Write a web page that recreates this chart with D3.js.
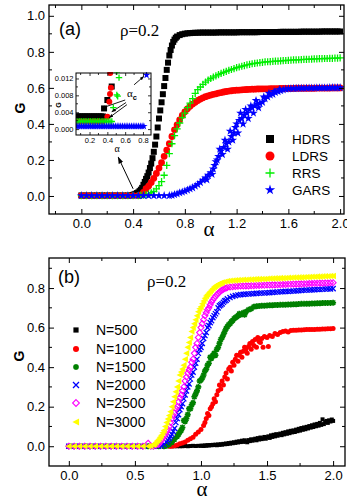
<!DOCTYPE html>
<html>
<head>
<meta charset="utf-8">
<script src="https://cdn.jsdelivr.net/npm/d3@7"></script>
<style>
  body { margin: 0; background: #fff; }
  svg { display: block; }
  text { font-family: "Liberation Sans", Arial, sans-serif; }
</style>
</head>
<body>
<svg id="fig" width="347" height="502"></svg>
<script>
// ---------- panel (a): G vs alpha, rho = 0.2 ----------
const hdrs = [[0,0.003],[0.04,0.003],[0.08,0.003],[0.12,0.003],[0.16,0.003],[0.2,0.003],[0.24,0.003],[0.28,0.003],[0.32,0.003],[0.36,0.003],[0.38,0.004],
  [0.4,0.006],[0.41,0.009],[0.42,0.012],[0.43,0.016],[0.44,0.02],[0.45,0.027],[0.46,0.035],[0.47,0.045],[0.48,0.062],[0.49,0.078],
  [0.5,0.095],[0.51,0.11],[0.52,0.13],[0.53,0.155],[0.54,0.18],[0.55,0.21],[0.56,0.245],[0.57,0.285],[0.58,0.33],[0.59,0.38],
  [0.6,0.43],[0.61,0.475],[0.62,0.52],[0.63,0.565],[0.64,0.61],[0.65,0.655],[0.66,0.7],[0.67,0.74],[0.68,0.78],[0.69,0.81],
  [0.7,0.835],[0.71,0.855],[0.72,0.868],[0.73,0.878],[0.74,0.885],[0.76,0.893],[0.78,0.898],[0.8,0.901],[0.82,0.903],[0.84,0.904],[0.86,0.905],[0.88,0.906],[0.9,0.906],
  [0.92,0.907],[0.94,0.907],[0.96,0.907],[0.98,0.907],[1,0.907],[1.02,0.907],[1.04,0.907],[1.06,0.908],[1.08,0.908],[1.1,0.908],[1.12,0.908],[1.14,0.908],[1.16,0.908],[1.18,0.908],[1.2,0.908],
  [1.22,0.909],[1.24,0.909],[1.26,0.909],[1.28,0.909],[1.3,0.909],[1.32,0.909],[1.34,0.909],[1.36,0.909],[1.38,0.91],[1.4,0.91],[1.42,0.91],[1.44,0.91],[1.46,0.91],[1.48,0.91],[1.5,0.91],[1.52,0.91],
  [1.54,0.911],[1.56,0.911],[1.58,0.911],[1.6,0.911],[1.62,0.911],[1.64,0.911],[1.66,0.911],[1.68,0.911],[1.7,0.912],[1.72,0.912],[1.74,0.912],[1.76,0.912],[1.78,0.912],[1.8,0.912],[1.82,0.912],[1.84,0.912],
  [1.86,0.913],[1.88,0.913],[1.9,0.913],[1.92,0.913],[1.94,0.913],[1.96,0.913],[1.98,0.913],[2,0.913]];

const ldrs = [[0,0.002],[0.04,0.002],[0.08,0.002],[0.12,0.002],[0.16,0.002],[0.2,0.002],[0.24,0.002],[0.28,0.002],[0.32,0.002],[0.36,0.002],[0.4,0.002],[0.44,0.002],
  [0.46,0.006],[0.48,0.02],[0.5,0.04],[0.52,0.055],[0.54,0.075],[0.56,0.098],[0.58,0.125],[0.6,0.155],[0.62,0.185],[0.64,0.22],[0.66,0.255],[0.68,0.29],[0.7,0.33],
  [0.72,0.367],[0.74,0.395],[0.76,0.422],[0.78,0.447],[0.8,0.467],[0.82,0.484],[0.84,0.498],[0.86,0.51],[0.88,0.52],[0.9,0.53],[0.92,0.538],[0.94,0.545],[0.96,0.551],[0.98,0.556],
  [1,0.56],[1.02,0.564],[1.04,0.567],[1.06,0.571],[1.08,0.574],[1.1,0.577],[1.12,0.58],[1.14,0.582],[1.16,0.584],[1.18,0.586],[1.2,0.587],[1.22,0.588],[1.24,0.589],[1.26,0.59],[1.28,0.591],
  [1.3,0.592],[1.32,0.593],[1.34,0.593],[1.36,0.594],[1.38,0.594],[1.4,0.595],[1.42,0.595],[1.44,0.595],[1.46,0.596],[1.48,0.596],[1.5,0.596],[1.52,0.596],[1.54,0.597],[1.56,0.597],[1.58,0.597],
  [1.6,0.597],[1.62,0.597],[1.64,0.597],[1.66,0.598],[1.68,0.598],[1.7,0.598],[1.72,0.598],[1.74,0.598],[1.76,0.598],[1.78,0.598],[1.8,0.598],[1.82,0.599],[1.84,0.599],[1.86,0.599],[1.88,0.599],
  [1.9,0.599],[1.92,0.599],[1.94,0.6],[1.96,0.6],[1.98,0.6],[2,0.6]];

const rrs = [[0,0.0015],[0.04,0.0015],[0.08,0.0015],[0.12,0.0015],[0.16,0.0015],[0.2,0.0015],[0.24,0.0015],[0.28,0.0015],[0.32,0.0015],[0.36,0.0015],[0.4,0.0015],[0.44,0.0015],
  [0.46,0.003],[0.48,0.005],[0.5,0.008],[0.52,0.012],[0.54,0.018],[0.56,0.026],[0.58,0.04],[0.6,0.058],[0.62,0.08],[0.64,0.115],[0.66,0.17],[0.68,0.235],[0.7,0.29],
  [0.72,0.335],[0.74,0.372],[0.76,0.405],[0.78,0.435],[0.8,0.46],[0.82,0.49],[0.84,0.515],[0.86,0.54],[0.88,0.57],[0.9,0.59],[0.92,0.605],[0.94,0.62],[0.96,0.632],[0.98,0.643],
  [1,0.652],[1.02,0.66],[1.04,0.667],[1.06,0.674],[1.08,0.68],[1.1,0.686],[1.12,0.692],[1.14,0.697],[1.16,0.702],[1.18,0.707],[1.2,0.712],[1.22,0.716],[1.24,0.72],[1.26,0.724],[1.28,0.728],
  [1.3,0.731],[1.32,0.734],[1.34,0.736],[1.36,0.738],[1.38,0.74],[1.4,0.742],[1.42,0.744],[1.44,0.745],[1.46,0.746],[1.48,0.747],[1.5,0.748],[1.52,0.749],[1.54,0.75],[1.56,0.751],[1.58,0.752],
  [1.6,0.753],[1.62,0.754],[1.64,0.755],[1.66,0.755],[1.68,0.756],[1.7,0.757],[1.72,0.758],[1.74,0.758],[1.76,0.759],[1.78,0.76],[1.8,0.761],[1.82,0.761],[1.84,0.762],[1.86,0.762],[1.88,0.763],
  [1.9,0.763],[1.92,0.764],[1.94,0.764],[1.96,0.765],[1.98,0.765],[2,0.766]];

const gars = [[0,0.002],[0.04,0.002],[0.08,0.002],[0.12,0.002],[0.16,0.002],[0.2,0.002],[0.24,0.002],[0.28,0.002],[0.32,0.002],[0.36,0.002],[0.4,0.002],[0.44,0.002],[0.48,0.002],[0.52,0.002],[0.56,0.002],[0.6,0.002],[0.64,0.002],[0.68,0.002],
  [0.7,0.004],[0.72,0.008],[0.74,0.012],[0.76,0.018],[0.78,0.022],[0.8,0.027],[0.82,0.033],[0.84,0.04],[0.86,0.046],[0.88,0.055],[0.9,0.064],[0.92,0.075],[0.94,0.088],[0.96,0.1],[0.97,0.09],[0.98,0.115],
  [1,0.13],[1.01,0.12],[1.02,0.15],[1.03,0.17],[1.04,0.19],[1.05,0.2],[1.06,0.22],[1.07,0.26],[1.08,0.25],[1.09,0.23],[1.1,0.27],[1.11,0.31],[1.12,0.29],[1.13,0.26],[1.14,0.3],[1.15,0.36],[1.16,0.33],[1.17,0.31],
  [1.18,0.35],[1.19,0.38],[1.2,0.4],[1.21,0.35],[1.22,0.42],[1.23,0.46],[1.24,0.43],[1.25,0.4],[1.26,0.45],[1.27,0.48],[1.28,0.46],[1.29,0.43],[1.3,0.48],[1.31,0.5],[1.32,0.49],[1.33,0.46],[1.34,0.5],[1.35,0.53],
  [1.36,0.51],[1.37,0.49],[1.38,0.515],[1.4,0.52],[1.41,0.55],[1.42,0.54],[1.44,0.55],[1.45,0.57],[1.46,0.56],[1.48,0.565],[1.49,0.58],[1.5,0.575],[1.52,0.58],[1.53,0.59],[1.54,0.585],[1.56,0.59],[1.58,0.593],
  [1.6,0.595],[1.62,0.596],[1.64,0.597],[1.66,0.597],[1.68,0.598],[1.7,0.598],[1.72,0.598],[1.74,0.599],[1.76,0.599],[1.78,0.599],[1.8,0.599],[1.82,0.6],[1.84,0.6],[1.86,0.6],[1.88,0.6],[1.9,0.6],
  [1.92,0.601],[1.94,0.601],[1.96,0.601],[1.98,0.601],[2,0.601]];

// inset of panel (a): the onset region, alpha_c
const hdrsIn = [[0.05,0.003],[0.07,0.003],[0.09,0.003],[0.11,0.003],[0.13,0.003],[0.15,0.003],[0.17,0.003],[0.19,0.003],[0.21,0.003],[0.23,0.003],[0.25,0.003],[0.27,0.003],[0.29,0.003],[0.31,0.003],[0.33,0.003],[0.35,0.003],
  [0.363,0.0049],[0.4,0.0069],[0.449,0.0101],[0.43,0.0144]];
const ldrsIn = [[0.05,0.0018],[0.1,0.0018],[0.15,0.0018],[0.2,0.0018],[0.25,0.0018],[0.3,0.0018],[0.35,0.0018],[0.4,0.0029],[0.422,0.0065],[0.43,0.0083],[0.44,0.0098],[0.432,0.0133]];
const rrsIn = [[0.05,0.0018],[0.07,0.0018],[0.09,0.0018],[0.11,0.0018],[0.13,0.0018],[0.15,0.0018],[0.17,0.0018],[0.19,0.0018],[0.21,0.0018],[0.23,0.0018],[0.25,0.0018],[0.27,0.0018],[0.29,0.0018],[0.31,0.0018],[0.33,0.0018],
  [0.35,0.0018],[0.37,0.0018],[0.39,0.0018],[0.41,0.0018],[0.43,0.0018],[0.45,0.0018],[0.467,0.0051],[0.506,0.0081],[0.516,0.0078],[0.506,0.0136],[0.531,0.0122]];
const garsIn = [[0.05,0.0007],[0.07,0.0007],[0.09,0.0007],[0.11,0.0007],[0.13,0.0007],[0.15,0.0007],[0.17,0.0007],[0.19,0.0007],[0.21,0.0007],[0.23,0.0007],[0.25,0.0007],[0.27,0.0007],[0.29,0.0007],[0.31,0.0007],
  [0.33,0.0007],[0.35,0.0007],[0.37,0.0007],[0.39,0.0007],[0.41,0.0007],[0.43,0.0007],[0.45,0.0007],[0.47,0.0007],[0.49,0.0007],[0.51,0.0007],[0.53,0.0007],[0.55,0.0007],[0.57,0.0007],[0.59,0.0007],
  [0.61,0.0007],[0.63,0.0007],[0.65,0.0007],[0.67,0.0007],[0.69,0.0007],[0.71,0.0007],[0.73,0.0007],[0.75,0.0007],[0.77,0.0007],[0.79,0.0007],[0.81,0.0007],[0.84,0.0128]];

// ---------- panel (b): G vs alpha for network sizes N ----------
const n500 = [[0,0],[0.04,0],[0.08,0],[0.12,0],[0.16,0],[0.2,0],[0.24,0],[0.28,0],[0.32,0],[0.36,0],[0.4,0],[0.44,0],[0.48,0],[0.52,0],[0.56,0],[0.6,0],[0.64,0],[0.68,0],[0.72,0],[0.76,0],
  [0.78,0],[0.8,0],[0.82,0],[0.84,0],[0.86,0],[0.88,0.001],[0.9,0],[0.92,0.001],[0.94,0.002],[0.96,0.001],[0.98,0.002],
  [1,0.002],[1.01,0.003],[1.02,0.001],[1.03,0.004],[1.04,0.003],[1.05,0.005],[1.06,0.004],[1.07,0.006],[1.08,0.005],[1.09,0.007],
  [1.1,0.006],[1.11,0.008],[1.12,0.005],[1.13,0.009],[1.14,0.007],[1.15,0.01],[1.16,0.008],[1.17,0.012],[1.18,0.01],[1.19,0.014],
  [1.2,0.011],[1.21,0.016],[1.22,0.013],[1.23,0.018],[1.24,0.015],[1.25,0.02],[1.26,0.017],[1.27,0.023],[1.28,0.019],[1.29,0.025],
  [1.3,0.021],[1.31,0.028],[1.32,0.022],[1.33,0.03],[1.34,0.024],[1.35,0.02],[1.36,0.031],[1.37,0.026],[1.38,0.035],[1.39,0.028],
  [1.4,0.033],[1.41,0.038],[1.42,0.03],[1.43,0.041],[1.44,0.034],[1.45,0.044],[1.46,0.036],[1.47,0.04],[1.48,0.047],[1.49,0.038],
  [1.5,0.045],[1.51,0.05],[1.52,0.042],[1.53,0.055],[1.54,0.047],[1.55,0.058],[1.56,0.05],[1.57,0.061],[1.58,0.053],[1.59,0.059],
  [1.6,0.064],[1.61,0.056],[1.62,0.068],[1.63,0.06],[1.64,0.071],[1.65,0.063],[1.66,0.075],[1.67,0.066],[1.68,0.078],[1.69,0.07],
  [1.7,0.08],[1.71,0.072],[1.72,0.084],[1.73,0.076],[1.74,0.088],[1.75,0.079],[1.76,0.092],[1.77,0.083],[1.78,0.095],[1.79,0.086],
  [1.8,0.098],[1.81,0.09],[1.82,0.102],[1.83,0.094],[1.84,0.106],[1.85,0.097],[1.86,0.11],[1.87,0.101],[1.88,0.113],[1.89,0.104],
  [1.9,0.118],[1.91,0.108],[1.92,0.136],[1.93,0.112],[1.94,0.122],[1.95,0.128],[1.96,0.118],[1.97,0.131],[1.98,0.125],[1.99,0.135],[2,0.128]];

const n1000 = [[0,0],[0.04,0],[0.08,0],[0.12,0],[0.16,0],[0.2,0],[0.24,0],[0.28,0],[0.32,0],[0.36,0],[0.4,0],[0.44,0],[0.48,0],[0.52,0],[0.56,0],[0.6,0],[0.64,0],[0.68,0],[0.72,0],[0.76,0],
  [0.78,0],[0.8,0.003],[0.82,0.006],[0.84,0.012],[0.86,0.016],[0.88,0.022],[0.9,0.03],[0.92,0.038],[0.94,0.046],[0.96,0.06],[0.98,0.072],
  [1,0.085],[1.02,0.105],[1.03,0.12],[1.04,0.14],[1.05,0.165],[1.06,0.155],[1.07,0.19],[1.08,0.2],[1.09,0.215],[1.1,0.24],[1.11,0.225],[1.12,0.26],[1.13,0.28],[1.14,0.31],
  [1.15,0.29],[1.16,0.33],[1.17,0.31],[1.18,0.35],[1.19,0.37],[1.2,0.34],[1.21,0.39],[1.22,0.4],[1.23,0.38],[1.24,0.425],[1.25,0.41],[1.26,0.44],[1.27,0.46],[1.28,0.43],[1.29,0.46],
  [1.3,0.475],[1.31,0.45],[1.32,0.48],[1.33,0.5],[1.34,0.49],[1.35,0.47],[1.36,0.505],[1.37,0.52],[1.38,0.49],[1.39,0.53],[1.4,0.51],[1.41,0.54],[1.42,0.5],[1.43,0.55],[1.44,0.53],
  [1.45,0.525],[1.46,0.545],[1.47,0.5],[1.48,0.555],[1.5,0.55],[1.51,0.505],[1.52,0.56],[1.54,0.555],[1.56,0.57],[1.58,0.565],[1.6,0.575],[1.62,0.58],[1.64,0.583],[1.66,0.578],[1.68,0.585],
  [1.7,0.586],[1.72,0.587],[1.74,0.588],[1.76,0.588],[1.78,0.589],[1.8,0.59],[1.82,0.59],[1.84,0.591],[1.86,0.591],[1.88,0.592],[1.9,0.592],[1.92,0.593],[1.94,0.593],[1.96,0.594],[1.98,0.594],[2,0.595]];

const n1500 = [[0,0],[0.04,0],[0.08,0],[0.12,0],[0.16,0],[0.2,0],[0.24,0],[0.28,0],[0.32,0],[0.36,0],[0.4,0],[0.44,0],[0.48,0],[0.52,0],[0.56,0],[0.6,0],[0.64,0],[0.68,0],[0.72,0],
  [0.74,0.003],[0.76,0.01],[0.78,0.02],[0.8,0.035],[0.82,0.05],[0.83,0.06],[0.84,0.072],[0.85,0.08],[0.86,0.095],[0.87,0.13],[0.88,0.125],[0.89,0.14],[0.9,0.16],[0.91,0.19],[0.92,0.19],
  [0.93,0.21],[0.94,0.22],[0.95,0.25],[0.96,0.265],[0.97,0.28],[0.98,0.3],[0.99,0.33],[1,0.335],[1.01,0.345],[1.02,0.36],[1.03,0.38],[1.04,0.39],[1.05,0.41],[1.06,0.42],[1.07,0.45],
  [1.08,0.445],[1.09,0.46],[1.1,0.47],[1.11,0.46],[1.12,0.49],[1.13,0.5],[1.14,0.52],[1.15,0.54],[1.16,0.55],[1.17,0.565],[1.18,0.58],[1.19,0.595],[1.2,0.605],[1.21,0.615],[1.22,0.62],
  [1.23,0.63],[1.24,0.636],[1.25,0.645],[1.26,0.65],[1.27,0.655],[1.28,0.66],[1.29,0.67],[1.3,0.665],[1.32,0.675],[1.33,0.665],[1.34,0.68],[1.36,0.69],[1.38,0.695],[1.4,0.705],[1.42,0.708],
  [1.44,0.709],[1.46,0.71],[1.48,0.711],[1.5,0.712],[1.52,0.713],[1.54,0.713],[1.56,0.714],[1.58,0.714],[1.6,0.715],[1.62,0.716],[1.64,0.716],[1.66,0.717],[1.68,0.717],[1.7,0.718],
  [1.72,0.718],[1.74,0.719],[1.76,0.72],[1.78,0.72],[1.8,0.721],[1.82,0.721],[1.84,0.722],[1.86,0.722],[1.88,0.723],[1.9,0.723],[1.92,0.724],[1.94,0.724],[1.96,0.725],[1.98,0.725],[2,0.726]];

const n2000 = [[0,0],[0.04,0],[0.08,0],[0.12,0],[0.16,0],[0.2,0],[0.24,0],[0.28,0],[0.32,0],[0.36,0],[0.4,0],[0.44,0],[0.48,0],[0.52,0],[0.56,0],[0.6,0],[0.64,0],[0.68,0],
  [0.7,0.003],[0.72,0.01],[0.74,0.02],[0.75,0.03],[0.76,0.04],[0.77,0.05],[0.78,0.06],[0.79,0.075],[0.8,0.09],[0.81,0.12],[0.82,0.14],[0.83,0.16],[0.84,0.185],[0.85,0.2],[0.86,0.215],
  [0.87,0.24],[0.88,0.26],[0.89,0.28],[0.9,0.3],[0.91,0.315],[0.92,0.34],[0.93,0.36],[0.94,0.375],[0.95,0.4],[0.96,0.42],[0.97,0.44],[0.98,0.47],[0.99,0.49],[1,0.5],[1.01,0.52],
  [1.02,0.545],[1.03,0.56],[1.04,0.575],[1.05,0.6],[1.06,0.61],[1.07,0.625],[1.08,0.635],[1.09,0.65],[1.1,0.66],[1.11,0.67],[1.12,0.68],[1.13,0.7],[1.14,0.71],[1.15,0.715],[1.16,0.72],
  [1.17,0.728],[1.18,0.735],[1.19,0.738],[1.2,0.745],[1.22,0.752],[1.24,0.758],[1.26,0.762],[1.28,0.765],[1.3,0.767],[1.32,0.768],[1.34,0.769],[1.36,0.77],[1.38,0.771],[1.4,0.772],
  [1.42,0.773],[1.44,0.774],[1.46,0.775],[1.48,0.775],[1.5,0.776],[1.52,0.777],[1.54,0.778],[1.56,0.779],[1.58,0.78],[1.6,0.781],[1.62,0.782],[1.64,0.783],[1.66,0.783],[1.68,0.784],
  [1.7,0.785],[1.72,0.786],[1.74,0.787],[1.76,0.788],[1.78,0.789],[1.8,0.79],[1.82,0.79],[1.84,0.791],[1.86,0.792],[1.88,0.793],[1.9,0.793],[1.92,0.794],[1.94,0.795],[1.96,0.796],[1.98,0.796],[2,0.797]];

const n2500 = [[0,0],[0.04,0],[0.08,0],[0.12,0],[0.16,0],[0.2,0],[0.24,0],[0.28,0],[0.32,0],[0.36,0],[0.4,0],[0.44,0],[0.48,0],[0.52,0],[0.56,0],[0.6,0.015],[0.62,0],[0.64,0],
  [0.66,0.005],[0.68,0.01],[0.69,0.02],[0.7,0.03],[0.71,0.04],[0.72,0.05],[0.73,0.06],[0.74,0.075],[0.75,0.085],[0.76,0.1],[0.77,0.12],[0.78,0.14],[0.79,0.155],[0.8,0.17],[0.81,0.19],
  [0.82,0.2],[0.83,0.225],[0.84,0.245],[0.85,0.26],[0.86,0.28],[0.87,0.3],[0.88,0.33],[0.89,0.35],[0.9,0.37],[0.91,0.385],[0.92,0.4],[0.93,0.425],[0.94,0.44],[0.95,0.47],[0.96,0.5],
  [0.97,0.52],[0.98,0.55],[0.99,0.575],[1,0.6],[1.01,0.62],[1.02,0.64],[1.03,0.66],[1.04,0.675],[1.05,0.69],[1.06,0.7],[1.07,0.715],[1.08,0.73],[1.09,0.74],[1.1,0.75],[1.11,0.758],
  [1.12,0.765],[1.13,0.772],[1.14,0.78],[1.15,0.785],[1.16,0.79],[1.17,0.794],[1.18,0.798],[1.19,0.8],[1.2,0.803],[1.22,0.805],[1.24,0.807],[1.26,0.808],[1.28,0.809],[1.3,0.81],
  [1.32,0.81],[1.34,0.811],[1.36,0.811],[1.38,0.812],[1.4,0.812],[1.42,0.813],[1.44,0.813],[1.46,0.814],[1.48,0.814],[1.5,0.815],[1.52,0.815],[1.54,0.816],[1.56,0.816],[1.58,0.817],
  [1.6,0.817],[1.62,0.818],[1.64,0.818],[1.66,0.819],[1.68,0.819],[1.7,0.82],[1.72,0.82],[1.74,0.821],[1.76,0.821],[1.78,0.822],[1.8,0.822],[1.82,0.823],[1.84,0.823],[1.86,0.824],
  [1.88,0.824],[1.9,0.825],[1.92,0.825],[1.94,0.826],[1.96,0.826],[1.98,0.827],[2,0.827]];

const n3000 = [[0,0],[0.04,0],[0.08,0],[0.12,0],[0.16,0],[0.2,0],[0.24,0],[0.28,0],[0.32,0],[0.36,0],[0.4,0],[0.44,0],[0.48,0],[0.52,0],[0.56,0],[0.6,0],
  [0.62,0.002],[0.64,0.008],[0.65,0.012],[0.66,0.02],[0.67,0.028],[0.68,0.035],[0.69,0.045],[0.7,0.055],[0.71,0.068],[0.72,0.08],[0.73,0.1],[0.74,0.12],[0.75,0.138],[0.76,0.155],
  [0.77,0.175],[0.78,0.2],[0.79,0.225],[0.8,0.25],[0.81,0.275],[0.82,0.3],[0.83,0.33],[0.84,0.36],[0.85,0.375],[0.86,0.39],[0.87,0.41],[0.88,0.44],[0.89,0.47],[0.9,0.5],[0.91,0.525],
  [0.92,0.55],[0.93,0.58],[0.94,0.6],[0.95,0.62],[0.96,0.64],[0.97,0.66],[0.98,0.68],[0.99,0.695],[1,0.705],[1.01,0.72],[1.02,0.735],[1.03,0.748],[1.04,0.76],[1.05,0.768],[1.06,0.775],
  [1.07,0.783],[1.08,0.79],[1.09,0.798],[1.1,0.805],[1.11,0.81],[1.12,0.815],[1.13,0.819],[1.14,0.822],[1.15,0.825],[1.16,0.828],[1.18,0.832],[1.2,0.835],[1.22,0.837],[1.24,0.838],
  [1.26,0.839],[1.28,0.84],[1.3,0.841],[1.32,0.842],[1.34,0.842],[1.36,0.843],[1.38,0.843],[1.4,0.844],[1.42,0.845],[1.44,0.845],[1.46,0.846],[1.48,0.846],[1.5,0.847],[1.52,0.848],
  [1.54,0.848],[1.56,0.849],[1.58,0.849],[1.6,0.85],[1.62,0.85],[1.64,0.851],[1.66,0.852],[1.68,0.852],[1.7,0.853],[1.72,0.853],[1.74,0.854],[1.76,0.854],[1.78,0.855],[1.8,0.856],
  [1.82,0.856],[1.84,0.857],[1.86,0.857],[1.88,0.858],[1.9,0.858],[1.92,0.859],[1.94,0.86],[1.96,0.86],[1.98,0.861],[2,0.861]];

// ticks
const ticksYA = [0, 0.2, 0.4, 0.6, 0.8, 1.0];
const minorYA = [0.1, 0.3, 0.5, 0.7, 0.9];
const ticksXA = [0, 0.4, 0.8, 1.2, 1.6, 2.0];
const minorXA = [-0.2, 0.2, 0.6, 1.0, 1.4, 1.8];
const ticksYB = [0, 0.2, 0.4, 0.6, 0.8];
const minorYB = [0.1, 0.3, 0.5, 0.7, 0.9];
const ticksXB = [0, 0.5, 1.0, 1.5, 2.0];
const minorXB = [0.25, 0.75, 1.25, 1.75];
const ticksYIn = [0, 0.004, 0.008, 0.012];
const minorYIn = [0.002, 0.006, 0.01];
const ticksXIn = [0.2, 0.4, 0.6, 0.8];
const minorXIn = [0.1, 0.3, 0.5, 0.7];

const svg = d3.select("#fig");

// marker shapes
function shape(type, r) {
  switch (type) {
    case "square": return `M${-r},${-r}h${2*r}v${2*r}h${-2*r}Z`;
    case "circle": return `M${r},0A${r},${r} 0 1 1 ${-r},0A${r},${r} 0 1 1 ${r},0Z`;
    case "plus": return `M${-r},0H${r}M0,${-r}V${r}`;
    case "times": return `M${-r},${-r}L${r},${r}M${-r},${r}L${r},${-r}`;
    case "asterisk": {
      const k = r * 0.72;
      return `M${-r},0H${r}M0,${-r}V${r}M${-k},${-k}L${k},${k}M${-k},${k}L${k},${-k}`;
    }
    case "diamond": return `M0,${-r}L${r},0L0,${r}L${-r},0Z`;
    case "triLeft": return `M${-r},0L${r*0.85},${-r}L${r*0.85},${r}Z`;
    case "star": return d3.symbol(d3.symbolStar, r * r / 0.8908)();
  }
}

function drawFrame(g, x, y, opt) {
  const [x0, x1] = x.range(), [y0, y1] = y.range();
  const axB = g.append("g").attr("transform", `translate(0,${y0})`)
    .call(d3.axisBottom(x).tickValues(opt.tx).tickSize(-opt.major).tickPadding(opt.padX).tickFormat(d3.format(opt.fx)));
  const axL = g.append("g").attr("transform", `translate(${x0},0)`)
    .call(d3.axisLeft(y).tickValues(opt.ty).tickSize(-opt.major).tickPadding(opt.padY).tickFormat(d3.format(opt.fy)));
  g.append("g").attr("transform", `translate(0,${y1})`)
    .call(d3.axisTop(x).tickValues(opt.tx).tickSize(-opt.major).tickFormat(""));
  g.append("g").attr("transform", `translate(${x1},0)`)
    .call(d3.axisRight(y).tickValues(opt.ty).tickSize(-opt.major).tickFormat(""));
  g.selectAll(".domain").remove();
  g.selectAll(".tick line").attr("stroke", "#000").attr("stroke-width", opt.sw);
  g.selectAll(".tick text").attr("fill", "#000").style("font-size", opt.fs + "px")
    .style("font-family", '"Liberation Sans", Arial, sans-serif');
  // minor ticks
  const m = opt.minor;
  opt.mx.forEach(v => {
    g.append("line").attr("x1", x(v)).attr("x2", x(v)).attr("y1", y0).attr("y2", y0 - m).attr("stroke", "#000").attr("stroke-width", opt.sw);
    g.append("line").attr("x1", x(v)).attr("x2", x(v)).attr("y1", y1).attr("y2", y1 + m).attr("stroke", "#000").attr("stroke-width", opt.sw);
  });
  opt.my.forEach(v => {
    g.append("line").attr("y1", y(v)).attr("y2", y(v)).attr("x1", x0).attr("x2", x0 + m).attr("stroke", "#000").attr("stroke-width", opt.sw);
    g.append("line").attr("y1", y(v)).attr("y2", y(v)).attr("x1", x1).attr("x2", x1 - m).attr("stroke", "#000").attr("stroke-width", opt.sw);
  });
  g.append("rect").attr("x", x0).attr("y", y1).attr("width", x1 - x0).attr("height", y0 - y1)
    .attr("fill", "none").attr("stroke", "#000").attr("stroke-width", opt.frame);
}

function drawSeries(g, x, y, s) {
  g.append("g").selectAll("path").data(s.data).join("path")
    .attr("transform", d => `translate(${x(d[0])},${y(d[1])})`)
    .attr("d", shape(s.shape, s.r))
    .attr("fill", s.stroke ? "none" : s.color)
    .attr("stroke", s.stroke ? s.color : "none")
    .attr("stroke-width", s.stroke || 0);
}

function drawLegend(g, items, lx, tx, ys, fs) {
  items.forEach((s, i) => {
    g.append("path").attr("transform", `translate(${lx},${ys[i]})`)
      .attr("d", shape(s.shape, s.lr))
      .attr("fill", s.stroke ? "none" : s.color)
      .attr("stroke", s.stroke ? s.color : "none")
      .attr("stroke-width", s.stroke || 0);
    g.append("text").attr("x", tx).attr("y", ys[i] + fs * 0.36)
      .style("font-size", fs + "px").text(s.name);
  });
}

svg.append("defs").html(`
  <marker id="headBig" viewBox="0 0 10 10" refX="9" refY="5" markerWidth="7" markerHeight="7" orient="auto-start-reverse">
    <path d="M0,1.5L10,5L0,8.5Z" fill="#000"/></marker>
  <marker id="headSmall" viewBox="0 0 10 10" refX="9" refY="5" markerWidth="5" markerHeight="5" orient="auto-start-reverse">
    <path d="M0,1.5L10,5L0,8.5Z" fill="#000"/></marker>`);

// ================= panel (a) =================
const xA = d3.scaleLinear().domain([-0.25, 2.03]).range([49, 344]);
const yA = d3.scaleLinear().domain([-0.1, 1.06]).range([214, 5]);
const gA = svg.append("g");

const seriesA = [
  { name: "HDRS", data: hdrs, shape: "square", r: 3, lr: 4, color: "#000000" },
  { name: "LDRS", data: ldrs, shape: "circle", r: 3.4, lr: 4.5, color: "#ff0000" },
  { name: "RRS", data: rrs, shape: "plus", r: 3.6, lr: 4.5, color: "#00ee00", stroke: 1.3 },
  { name: "GARS", data: gars, shape: "star", r: 4.6, lr: 5.4, color: "#0000ff" }
];
seriesA.forEach(s => drawSeries(gA, xA, yA, s));

drawFrame(gA, xA, yA, { tx: ticksXA, ty: ticksYA, mx: minorXA, my: minorYA, major: 5, minor: 3,
  padX: 5, padY: 4, fx: ".1f", fy: ".1f", fs: 13, sw: 1, frame: 1.3 });

drawLegend(gA, seriesA, 270, 292, [139, 156, 173, 190], 13.5);

gA.append("text").attr("x", 59).attr("y", 35).style("font-size", "18px").text("(a)");
gA.append("text").attr("x", 120).attr("y", 36).style("font-family", '"Liberation Serif", "Times New Roman", serif')
  .style("font-size", "17px").text("ρ=0.2");
gA.append("text").attr("x", 209).attr("y", 236).attr("text-anchor", "middle")
  .style("font-family", '"Liberation Serif", "Times New Roman", serif').style("font-size", "21px").text("α");
gA.append("text").attr("transform", "translate(20,108) rotate(-90)").attr("text-anchor", "middle")
  .attr("dominant-baseline", "central").style("font-size", "14px").style("font-weight", "bold").text("G");

// arrow from the onset up to the inset
gA.append("line").attr("x1", xA(0.4)).attr("y1", yA(0.04)).attr("x2", xA(0.285)).attr("y2", yA(0.215))
  .attr("stroke", "#000").attr("stroke-width", 1).attr("marker-end", "url(#headBig)");

// ---------- inset ----------
const xI = d3.scaleLinear().domain([0.048, 0.89]).range([76, 151]);
const yI = d3.scaleLinear().domain([-0.0014, 0.0133]).range([135, 73]);
const gI = svg.append("g");
gI.append("rect").attr("x", 76).attr("y", 73).attr("width", 75).attr("height", 62).attr("fill", "#fff");
gI.append("clipPath").attr("id", "clipIn").append("rect").attr("x", 76).attr("y", 72).attr("width", 75).attr("height", 63);
const gIdata = gI.append("g").attr("clip-path", "url(#clipIn)");
const seriesIn = [
  { data: hdrsIn, shape: "square", r: 3, color: "#000000" },
  { data: ldrsIn, shape: "circle", r: 3, color: "#ff0000" },
  { data: rrsIn, shape: "plus", r: 3.2, color: "#00ee00", stroke: 1.3 },
  { data: garsIn, shape: "star", r: 4, color: "#0000ff" }
];
seriesIn.forEach(s => drawSeries(gIdata, xI, yI, s));
drawFrame(gI, xI, yI, { tx: ticksXIn, ty: ticksYIn, mx: minorXIn, my: minorYIn, major: 3, minor: 2,
  padX: 3, padY: 2.5, fx: ".1f", fy: ".3f", fs: 7.5, sw: 0.8, frame: 1 });
gI.append("text").attr("x", 117).attr("y", 152).attr("text-anchor", "middle")
  .style("font-family", '"Liberation Serif", "Times New Roman", serif').style("font-size", "10px").text("α");
gI.append("text").attr("transform", "translate(58,105) rotate(-90)").attr("text-anchor", "middle")
  .attr("dominant-baseline", "central").style("font-size", "7px").style("font-weight", "bold").text("G");

const ac = gI.append("text").attr("x", 127).attr("y", 97)
  .style("font-family", '"Liberation Serif", "Times New Roman", serif').style("font-size", "11px");
ac.append("tspan").text("α");
ac.append("tspan").attr("dy", 3).style("font-size", "7.5px").style("font-family", '"Liberation Sans", Arial, sans-serif').style("font-weight", "bold").text("c");

const arrowsIn = [
  [[0.6, 0.0069], [0.34, 0.0050]],
  [[0.61, 0.0063], [0.45, 0.0041]],
  [[0.62, 0.0058], [0.42, 0.0027]],
  [[0.7, 0.0105], [0.81, 0.0125]]
];
arrowsIn.forEach(a => {
  gI.append("line").attr("x1", xI(a[0][0])).attr("y1", yI(a[0][1])).attr("x2", xI(a[1][0])).attr("y2", yI(a[1][1]))
    .attr("stroke", "#000").attr("stroke-width", 0.9).attr("marker-end", "url(#headSmall)");
});

// ================= panel (b) =================
const xB = d3.scaleLinear().domain([-0.15, 2.09]).range([49, 345]);
const yB = d3.scaleLinear().domain([-0.1, 0.952]).range([466, 258]);
const gB = svg.append("g");

const seriesB = [
  { name: "N=500", data: n500, shape: "square", r: 2, lr: 2.6, color: "#000000" },
  { name: "N=1000", data: n1000, shape: "circle", r: 2.5, lr: 3, color: "#ff0000" },
  { name: "N=1500", data: n1500, shape: "asterisk", r: 3, lr: 3, color: "#008000", stroke: 1.6 },
  { name: "N=2000", data: n2000, shape: "times", r: 2.6, lr: 3, color: "#0000ff", stroke: 1.3 },
  { name: "N=2500", data: n2500, shape: "diamond", r: 3, lr: 3.4, color: "#ff00ff", stroke: 1.1 },
  { name: "N=3000", data: n3000, shape: "triLeft", r: 3.3, lr: 3.6, color: "#ffff00" }
];
seriesB.forEach(s => drawSeries(gB, xB, yB, s));

drawFrame(gB, xB, yB, { tx: ticksXB, ty: ticksYB, mx: minorXB, my: minorYB, major: 5, minor: 3,
  padX: 5, padY: 4, fx: ".1f", fy: ".1f", fs: 13, sw: 1, frame: 1.3 });

drawLegend(gB, seriesB, 76, 96, [330, 349, 367, 385, 403, 422], 14);

gB.append("text").attr("x", 58).attr("y", 283).style("font-size", "18px").text("(b)");
gB.append("text").attr("x", 147).attr("y", 287).style("font-family", '"Liberation Serif", "Times New Roman", serif')
  .style("font-size", "17px").text("ρ=0.2");
gB.append("text").attr("x", 202).attr("y", 496).attr("text-anchor", "middle")
  .style("font-family", '"Liberation Serif", "Times New Roman", serif').style("font-size", "21px").text("α");
gB.append("text").attr("transform", "translate(19,356) rotate(-90)").attr("text-anchor", "middle")
  .attr("dominant-baseline", "central").style("font-size", "14px").style("font-weight", "bold").text("G");
</script>
</body>
</html>
